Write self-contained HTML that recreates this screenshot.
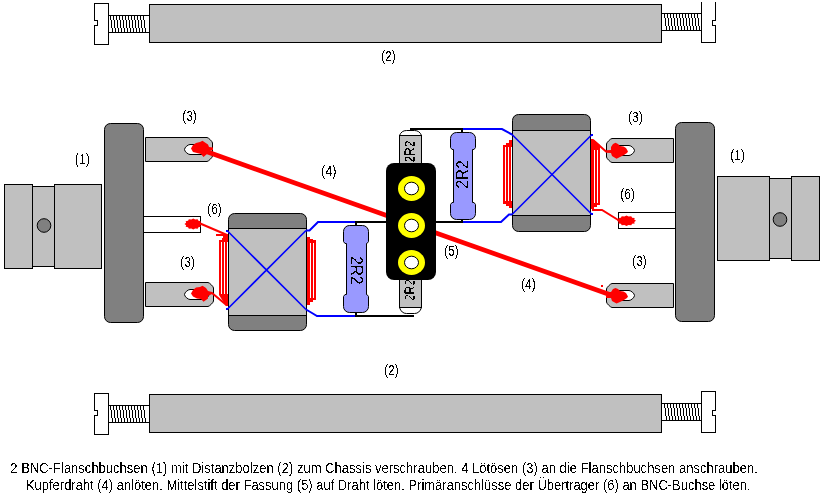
<!DOCTYPE html><html><head><meta charset="utf-8"><style>html,body{margin:0;padding:0;background:#fff;width:827px;height:501px;overflow:hidden}svg{display:block}text{font-family:"Liberation Sans",sans-serif;fill:#000;filter:url(#crisp)}</style></head><body>
<svg width="827" height="501" viewBox="0 0 827 501" shape-rendering="crispEdges">
<defs><filter id="crisp" x="-0.2" y="-0.5" width="1.4" height="2" color-interpolation-filters="sRGB"><feComponentTransfer><feFuncA type="discrete" tableValues="0 1"/></feComponentTransfer></filter></defs>
<path d="M94.5,3.5 H108.5 V44.5 H94.5 V25.5 H97.5 V20.5 H94.5 Z" fill="#fff" stroke="#000"/>
<rect x="108.5" y="15.5" width="41" height="17" fill="#fff" stroke="#000"/>
<path d="M110,16h1v4h-1z M111,20h1v8h-1z M112,28h1v4h-1z M113,16h1v4h-1z M114,20h1v8h-1z M115,28h1v4h-1z M116,16h1v4h-1z M117,20h1v8h-1z M118,28h1v4h-1z M119,16h1v4h-1z M120,20h1v8h-1z M121,28h1v4h-1z M122,16h1v4h-1z M123,20h1v8h-1z M124,28h1v4h-1z M125,16h1v4h-1z M126,20h1v8h-1z M127,28h1v4h-1z M128,16h1v4h-1z M129,20h1v8h-1z M130,28h1v4h-1z M131,16h1v4h-1z M132,20h1v8h-1z M133,28h1v4h-1z M134,16h1v4h-1z M135,20h1v8h-1z M136,28h1v4h-1z M137,16h1v4h-1z M138,20h1v8h-1z M139,28h1v4h-1z M140,16h1v4h-1z M141,20h1v8h-1z M142,28h1v4h-1z M143,16h1v4h-1z M144,20h1v8h-1z M145,28h1v4h-1z" fill="#000" stroke="none"/>
<rect x="149.5" y="4.5" width="512" height="38" fill="#c0c0c0" stroke="#000"/>
<rect x="661.5" y="13.5" width="40" height="17" fill="#fff" stroke="#000"/>
<path d="M664,14h1v4h-1z M665,18h1v8h-1z M666,26h1v4h-1z M667,14h1v4h-1z M668,18h1v8h-1z M669,26h1v4h-1z M670,14h1v4h-1z M671,18h1v8h-1z M672,26h1v4h-1z M673,14h1v4h-1z M674,18h1v8h-1z M675,26h1v4h-1z M676,14h1v4h-1z M677,18h1v8h-1z M678,26h1v4h-1z M679,14h1v4h-1z M680,18h1v8h-1z M681,26h1v4h-1z M682,14h1v4h-1z M683,18h1v8h-1z M684,26h1v4h-1z M685,14h1v4h-1z M686,18h1v8h-1z M687,26h1v4h-1z M688,14h1v4h-1z M689,18h1v8h-1z M690,26h1v4h-1z M691,14h1v4h-1z M692,18h1v8h-1z M693,26h1v4h-1z M694,14h1v4h-1z M695,18h1v8h-1z M696,26h1v4h-1z M697,14h1v4h-1z M698,18h1v8h-1z M699,26h1v4h-1z" fill="#000" stroke="none"/>
<path d="M701.5,2 V42.5 H715.5 V25.5 H712.5 V20.5 H715.5 V2" fill="#fff" stroke="#000"/>
<path d="M94.5,393.5 H108.5 V434.5 H94.5 V415.5 H97.5 V410.5 H94.5 Z" fill="#fff" stroke="#000"/>
<rect x="108.5" y="405.5" width="41" height="17" fill="#fff" stroke="#000"/>
<path d="M110,406h1v4h-1z M111,410h1v8h-1z M112,418h1v4h-1z M113,406h1v4h-1z M114,410h1v8h-1z M115,418h1v4h-1z M116,406h1v4h-1z M117,410h1v8h-1z M118,418h1v4h-1z M119,406h1v4h-1z M120,410h1v8h-1z M121,418h1v4h-1z M122,406h1v4h-1z M123,410h1v8h-1z M124,418h1v4h-1z M125,406h1v4h-1z M126,410h1v8h-1z M127,418h1v4h-1z M128,406h1v4h-1z M129,410h1v8h-1z M130,418h1v4h-1z M131,406h1v4h-1z M132,410h1v8h-1z M133,418h1v4h-1z M134,406h1v4h-1z M135,410h1v8h-1z M136,418h1v4h-1z M137,406h1v4h-1z M138,410h1v8h-1z M139,418h1v4h-1z M140,406h1v4h-1z M141,410h1v8h-1z M142,418h1v4h-1z M143,406h1v4h-1z M144,410h1v8h-1z M145,418h1v4h-1z" fill="#000" stroke="none"/>
<rect x="149.5" y="394.5" width="512" height="38" fill="#c0c0c0" stroke="#000"/>
<rect x="661.5" y="403.5" width="40" height="17" fill="#fff" stroke="#000"/>
<path d="M664,404h1v4h-1z M665,408h1v8h-1z M666,416h1v4h-1z M667,404h1v4h-1z M668,408h1v8h-1z M669,416h1v4h-1z M670,404h1v4h-1z M671,408h1v8h-1z M672,416h1v4h-1z M673,404h1v4h-1z M674,408h1v8h-1z M675,416h1v4h-1z M676,404h1v4h-1z M677,408h1v8h-1z M678,416h1v4h-1z M679,404h1v4h-1z M680,408h1v8h-1z M681,416h1v4h-1z M682,404h1v4h-1z M683,408h1v8h-1z M684,416h1v4h-1z M685,404h1v4h-1z M686,408h1v8h-1z M687,416h1v4h-1z M688,404h1v4h-1z M689,408h1v8h-1z M690,416h1v4h-1z M691,404h1v4h-1z M692,408h1v8h-1z M693,416h1v4h-1z M694,404h1v4h-1z M695,408h1v8h-1z M696,416h1v4h-1z M697,404h1v4h-1z M698,408h1v8h-1z M699,416h1v4h-1z" fill="#000" stroke="none"/>
<path d="M701.5,391.5 H715.5 V410.5 H712.5 V415.5 H715.5 V432.5 H701.5 Z" fill="#fff" stroke="#000"/>
<rect x="4.5" y="184.5" width="28" height="84" fill="#c0c0c0" stroke="#000"/>
<rect x="32.5" y="186.5" width="22" height="80" fill="#c0c0c0" stroke="#000"/>
<rect x="54.5" y="184.5" width="47" height="84" fill="#c0c0c0" stroke="#000"/>
<circle cx="44" cy="225.5" r="6.8" fill="#808080" stroke="#000" shape-rendering="auto"/>
<rect x="104.5" y="123.5" width="39" height="199" rx="6" fill="#808080" stroke="#000" shape-rendering="auto"/>
<rect x="717.5" y="176.5" width="52" height="84" fill="#c0c0c0" stroke="#000"/>
<rect x="769.5" y="178.5" width="22" height="80" fill="#c0c0c0" stroke="#000"/>
<rect x="791.5" y="176.5" width="28" height="84" fill="#c0c0c0" stroke="#000"/>
<circle cx="780" cy="219.5" r="6.8" fill="#808080" stroke="#000" shape-rendering="auto"/>
<rect x="675.5" y="122.5" width="39" height="199" rx="6" fill="#808080" stroke="#000" shape-rendering="auto"/>
<path d="M145.5,137.5 H207.0 C208.375,137.5 212.5,141.625 212.5,143.0 V156.0 C212.5,157.375 208.375,161.5 207.0,161.5 H145.5 Z" fill="#c0c0c0" stroke="#000" shape-rendering="auto"/>
<path d="M190.0,144.5 H203.5 C205.5,144.5 209,147.5 209,149.5 C209,151.5 205.5,154.5 203.5,154.5 H190.0 C188.0,154.5 184.5,151.5 184.5,149.5 C184.5,147.5 188.0,144.5 190.0,144.5 Z" fill="#fff" stroke="#000" shape-rendering="auto"/>
<path d="M145.5,282.5 H208.0 C209.375,282.5 213.5,286.625 213.5,288.0 V301.0 C213.5,302.375 209.375,306.5 208.0,306.5 H145.5 Z" fill="#c0c0c0" stroke="#000" shape-rendering="auto"/>
<path d="M190.0,289.5 H203.5 C205.5,289.5 209,292.5 209,294.5 C209,296.5 205.5,299.5 203.5,299.5 H190.0 C188.0,299.5 184.5,296.5 184.5,294.5 C184.5,292.5 188.0,289.5 190.0,289.5 Z" fill="#fff" stroke="#000" shape-rendering="auto"/>
<path d="M673.5,138.5 H612.0 C610.625,138.5 606.5,142.625 606.5,144.0 V157.0 C606.5,158.375 610.625,162.5 612.0,162.5 H673.5 Z" fill="#c0c0c0" stroke="#000" shape-rendering="auto"/>
<path d="M617.5,145.5 H629.0 C631.0,145.5 634.5,148.5 634.5,150.5 C634.5,152.5 631.0,155.5 629.0,155.5 H617.5 C615.5,155.5 612,152.5 612,150.5 C612,148.5 615.5,145.5 617.5,145.5 Z" fill="#fff" stroke="#000" shape-rendering="auto"/>
<path d="M673.5,283.5 H612.0 C610.625,283.5 606.5,287.625 606.5,289.0 V302.0 C606.5,303.375 610.625,307.5 612.0,307.5 H673.5 Z" fill="#c0c0c0" stroke="#000" shape-rendering="auto"/>
<path d="M617.5,290.5 H629.0 C631.0,290.5 634.5,293.5 634.5,295.5 C634.5,297.5 631.0,300.5 629.0,300.5 H617.5 C615.5,300.5 612,297.5 612,295.5 C612,293.5 615.5,290.5 617.5,290.5 Z" fill="#fff" stroke="#000" shape-rendering="auto"/>
<rect x="143.5" y="216.5" width="57" height="16" fill="#fff" stroke="#000"/>
<rect x="618.5" y="212.5" width="57" height="16" fill="#fff" stroke="#000"/>
<rect x="228.5" y="213.5" width="78" height="117" rx="6" fill="#808080" stroke="#000" shape-rendering="auto"/>
<rect x="229" y="228" width="77" height="88" fill="#c0c0c0"/>
<path d="M228,228.5 H307 M228,315.5 H307" stroke="#000" fill="none"/>
<rect x="512.5" y="114.5" width="78" height="117" rx="6" fill="#808080" stroke="#000" shape-rendering="auto"/>
<rect x="513" y="130" width="77" height="86" fill="#c0c0c0"/>
<path d="M512,130.5 H591 M512,215.5 H591" stroke="#000" fill="none"/>
<rect x="216" y="234" width="12" height="2" fill="#ff0000"/>
<rect x="223" y="236" width="5" height="2" fill="#ff0000"/>
<rect x="222" y="238" width="6" height="2" fill="#ff0000"/>
<rect x="219" y="240" width="9" height="55" fill="#ff0000"/>
<polygon points="219,295 228,295 228,306 226,306" fill="#ff0000" shape-rendering="auto"/>
<rect x="221" y="242" width="1" height="52" fill="#fff"/>
<rect x="224" y="242" width="1" height="52" fill="#fff"/>
<rect x="227" y="242" width="1" height="52" fill="#fff"/>
<rect x="307" y="237" width="3" height="2" fill="#ff0000"/>
<rect x="307" y="239" width="6" height="1" fill="#ff0000"/>
<rect x="307" y="240" width="9" height="59" fill="#ff0000"/>
<rect x="307" y="299" width="9" height="1" fill="#ff0000"/>
<rect x="307" y="300" width="6" height="2" fill="#ff0000"/>
<rect x="307" y="302" width="3" height="3" fill="#ff0000"/>
<rect x="310" y="243" width="1" height="55" fill="#fff"/>
<rect x="313" y="243" width="1" height="55" fill="#fff"/>
<rect x="509" y="140" width="3" height="3" fill="#ff0000"/>
<rect x="506" y="143" width="6" height="2" fill="#ff0000"/>
<rect x="503" y="145" width="9" height="59" fill="#ff0000"/>
<rect x="506" y="204" width="6" height="2" fill="#ff0000"/>
<rect x="509" y="206" width="3" height="2" fill="#ff0000"/>
<rect x="505" y="147" width="1" height="54" fill="#fff"/>
<rect x="508" y="147" width="1" height="54" fill="#fff"/>
<rect x="511" y="147" width="1" height="54" fill="#fff"/>
<polygon points="591,139 593,139 600,145 600,203 591,203" fill="#ff0000" shape-rendering="auto"/>
<rect x="591" y="203" width="9" height="2" fill="#ff0000"/>
<rect x="591" y="205" width="6" height="2" fill="#ff0000"/>
<rect x="591" y="207" width="3" height="2" fill="#ff0000"/>
<rect x="594" y="150" width="1" height="53" fill="#fff"/>
<rect x="597" y="150" width="1" height="53" fill="#fff"/>
<path d="M227,230.5 L306,309.5 M306,230.5 L227,309.5" stroke="#0000ff" stroke-width="1.6" fill="none" shape-rendering="auto"/>
<rect x="226" y="230" width="2" height="2" fill="#0000ff"/>
<rect x="226" y="308" width="2" height="2" fill="#0000ff"/>
<path d="M512,134.5 L592,214.5 M592,134.5 L512,214.5" stroke="#0000ff" stroke-width="1.6" fill="none" shape-rendering="auto"/>
<rect x="591" y="134" width="2" height="2" fill="#0000ff"/>
<rect x="591" y="213" width="2" height="2" fill="#0000ff"/>
<path d="M306,230.5 H309.5 L318,222 H356" stroke="#0000ff" stroke-width="2" fill="none" shape-rendering="auto"/>
<path d="M306,309.5 L312,313 L317,316 H356" stroke="#0000ff" stroke-width="2" fill="none" shape-rendering="auto"/>
<path d="M463,129 H502 L512,134.5" stroke="#0000ff" stroke-width="2" fill="none" shape-rendering="auto"/>
<path d="M463,222 H501 L509,214.5 H512" stroke="#0000ff" stroke-width="2" fill="none" shape-rendering="auto"/>
<path d="M355,222 H386 M356,222 V226" stroke="#000" stroke-width="2" fill="none"/>
<path d="M355,316 H414 M356,316 V312" stroke="#000" stroke-width="2" fill="none"/>
<path d="M410,129 H463 M462,129 V133" stroke="#000" stroke-width="2" fill="none"/>
<path d="M435,222 H463 M462,222 V218" stroke="#000" stroke-width="2" fill="none"/>
<path d="M349.5,225.5 H362.5 A6,6 0 0 1 368.5,231.5 V241.5 L367.0,243.5 H366.5 V294.5 H367.0 L368.5,296.5 V306.5 A6,6 0 0 1 362.5,312.5 H349.5 A6,6 0 0 1 343.5,306.5 V296.5 L345.0,294.5 H346.5 V243.5 H345.0 L343.5,241.5 V231.5 A6,6 0 0 1 349.5,225.5 Z" fill="#9999ff" stroke="#000" shape-rendering="auto"/>
<path d="M456.5,132.5 H469.5 A6,6 0 0 1 475.5,138.5 V147.5 L474.0,149.5 H472.5 V202.5 H474.0 L475.5,204.5 V213.5 A6,6 0 0 1 469.5,219.5 H456.5 A6,6 0 0 1 450.5,213.5 V204.5 L452.0,202.5 H453.5 V149.5 H452.0 L450.5,147.5 V138.5 A6,6 0 0 1 456.5,132.5 Z" fill="#9999ff" stroke="#000" shape-rendering="auto"/>
<text transform="translate(351,257) rotate(90) scale(0.905,1)" x="-0.855" font-size="17">2R2</text>
<text transform="translate(468,187.7) rotate(-90) scale(0.905,1)" x="-0.855" font-size="17">2R2</text>
<path d="M399.5,135.5 Q401.5,130.5 406.5,130.5 H414.5 Q419.5,130.5 421.5,135.5 V170 H399.5 Z" fill="#fff" stroke="#000" shape-rendering="auto"/>
<rect x="399.5" y="135.5" width="22" height="40" fill="#c0c0c0" stroke="#000"/>
<text transform="translate(414.5,162) rotate(-90) scale(0.865,1)" x="-0.704" font-size="14">2R2</text>
<path d="M399.5,307.5 Q401.5,313.5 406.5,313.5 H414.5 Q419.5,313.5 421.5,307.5 V270 H399.5 Z" fill="#fff" stroke="#000" shape-rendering="auto"/>
<rect x="399.5" y="270.5" width="22" height="37" fill="#c0c0c0" stroke="#000"/>
<text transform="translate(414.5,300.5) rotate(-90) scale(0.865,1)" x="-0.704" font-size="14">2R2</text>
<path d="M200,149.3 L618,297.5" stroke="#ff0000" stroke-width="4.7" fill="none" shape-rendering="auto"/>
<rect x="386" y="163" width="50" height="117" rx="8" fill="#000" shape-rendering="auto"/>
<ellipse cx="411.5" cy="188.5" rx="13.5" ry="12.5" fill="#ffff00" shape-rendering="auto"/>
<ellipse cx="411.5" cy="188.5" rx="7" ry="6.3" fill="#fff" stroke="#000" shape-rendering="auto"/>
<ellipse cx="411.5" cy="225.5" rx="13.5" ry="12.5" fill="#ffff00" shape-rendering="auto"/>
<ellipse cx="411.5" cy="225.5" rx="7" ry="6.3" fill="#fff" stroke="#000" shape-rendering="auto"/>
<ellipse cx="411.5" cy="262.5" rx="13.5" ry="12.5" fill="#ffff00" shape-rendering="auto"/>
<ellipse cx="411.5" cy="262.5" rx="7" ry="6.3" fill="#fff" stroke="#000" shape-rendering="auto"/>
<path d="M199,223 L227,235" stroke="#ff0000" stroke-width="2" fill="none" shape-rendering="auto"/>
<path d="M206,293 H212 L227,305.5" stroke="#ff0000" stroke-width="2" fill="none" shape-rendering="auto"/>
<path d="M611,151.5 H606 L593,140" stroke="#ff0000" stroke-width="2" fill="none" shape-rendering="auto"/>
<path d="M619,220.5 L602,210 H592" stroke="#ff0000" stroke-width="2" fill="none" shape-rendering="auto"/>
<polygon points="191,148.5 193,145 196,143 200,142 202.5,140.7 205,142.5 208,144.5 209,147 213,147.5 213,150 209,151 207,154 203.5,157 201,154 197,153 193,152" fill="#ff0000" shape-rendering="auto"/>
<polygon points="191,293.5 193,290 196,287.5 200,287 202.5,285.8 206,288 208,291 212,292 212,294 208,296 208,298.5 206,300 203.5,301.8 201,299 197,298.5 193,296.5" fill="#ff0000" shape-rendering="auto"/>
<polygon points="628,151.5 626,148 623.5,146.5 620,146 618,144 615.5,142.8 613,144 611,147 611,150 606,150.5 606,152.5 611,153 612,156 616.5,158.8 620,157 624,155 627,153" fill="#ff0000" shape-rendering="auto"/>
<polygon points="628,296.5 626,293 623.5,291.5 620,291 618,289 615.5,288 613,289 611,292 606,292 606,298 611,298 612,301 616.5,303.5 620,302 624,300 627,298" fill="#ff0000" shape-rendering="auto"/>
<polygon points="202.0,224.0 200.35,225.2 200.83,226.75 198.45,227.27 197.62,228.76 195.15,228.46 193.25,229.5 191.35,228.46 188.88,228.76 188.05,227.27 185.67,226.75 186.15,225.2 184.5,224.0 186.15,222.8 185.67,221.25 188.05,220.73 188.88,219.24 191.35,219.54 193.25,218.5 195.15,219.54 197.62,219.24 198.45,220.73 200.83,221.25 200.35,222.8" fill="#ff0000" shape-rendering="auto"/>
<rect x="601" y="285" width="2" height="2" fill="#ff0000"/>
<polygon points="636.0,220.75 634.21,221.89 634.73,223.38 632.14,223.87 631.25,225.3 628.57,225.01 626.5,226.0 624.43,225.01 621.75,225.3 620.86,223.87 618.27,223.38 618.79,221.89 617.0,220.75 618.79,219.61 618.27,218.12 620.86,217.63 621.75,216.2 624.43,216.49 626.5,215.5 628.57,216.49 631.25,216.2 632.14,217.63 634.73,218.12 634.21,219.61" fill="#ff0000" shape-rendering="auto"/>
<text transform="translate(382,61) scale(0.8456,1)" x="-0.868" y="0" font-size="14">(2)</text>
<text transform="translate(385,375) scale(0.8326,1)" x="-0.868" y="0" font-size="14">(2)</text>
<text transform="translate(75.6,164) scale(0.8846,1)" x="-0.868" y="0" font-size="14">(1)</text>
<text transform="translate(731,160) scale(0.8651,1)" x="-0.868" y="0" font-size="14">(1)</text>
<text transform="translate(182.9,121) scale(0.8586,1)" x="-0.868" y="0" font-size="14">(3)</text>
<text transform="translate(180.8,267) scale(0.8781,1)" x="-0.868" y="0" font-size="14">(3)</text>
<text transform="translate(628.8,122) scale(0.8716,1)" x="-0.868" y="0" font-size="14">(3)</text>
<text transform="translate(632.9,266) scale(0.8521,1)" x="-0.868" y="0" font-size="14">(3)</text>
<text transform="translate(321.8,176) scale(0.8976,1)" x="-0.868" y="0" font-size="14">(4)</text>
<text transform="translate(521.8,289) scale(0.8651,1)" x="-0.868" y="0" font-size="14">(4)</text>
<text transform="translate(444.9,256) scale(0.8521,1)" x="-0.868" y="0" font-size="14">(5)</text>
<text transform="translate(207.9,214) scale(0.8521,1)" x="-0.868" y="0" font-size="14">(6)</text>
<text transform="translate(621,199) scale(0.8651,1)" x="-0.868" y="0" font-size="14">(6)</text>
<text transform="translate(11,473) scale(0.9303,1)" x="-0.704" y="0" font-size="14">2 BNC-Flanschbuchsen (1) mit Distanzbolzen (2) zum Chassis verschrauben. 4 Lötösen (3) an die Flanschbuchsen anschrauben.</text>
<text transform="translate(27,490) scale(0.9265,1)" x="-1.148" y="0" font-size="14">Kupferdraht (4) anlöten. Mittelstift der Fassung (5) auf Draht löten. Primäranschlüsse der Übertrager (6) an BNC-Buchse löten.</text>
</svg></body></html>
